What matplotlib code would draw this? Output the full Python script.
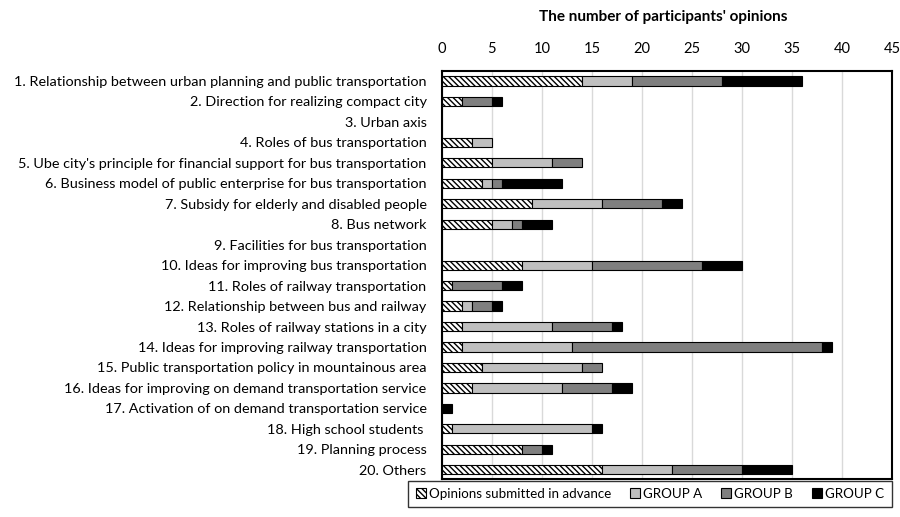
import matplotlib
matplotlib.use("Agg")
import matplotlib.pyplot as plt
import numpy as np

plt.rcParams["font.family"] = ["Lato", "DejaVu Sans"]
plt.rcParams["hatch.linewidth"] = 1.0

topics = [
    "1. Relationship between urban planning and public transportation",
    "2. Direction for realizing compact city",
    "3. Urban axis",
    "4. Roles of bus transportation",
    "5. Ube city's principle for financial support for bus transportation",
    "6. Business model of public enterprise for bus transportation",
    "7. Subsidy for elderly and disabled people",
    "8. Bus network",
    "9. Facilities for bus transportation",
    "10. Ideas for improving bus transportation",
    "11. Roles of railway transportation",
    "12. Relationship between bus and railway",
    "13. Roles of railway stations in a city",
    "14. Ideas for improving railway transportation",
    "15. Public transportation policy in mountainous area",
    "16. Ideas for improving on demand transportation service",
    "17. Activation of on demand transportation service",
    "18. High school students ",
    "19. Planning process",
    "20. Others",
]

advance = [14, 2, 0, 3, 5, 4, 9, 5, 0, 8, 1, 2, 2, 2, 4, 3, 0, 1, 8, 16]
group_a = [5, 0, 0, 2, 6, 1, 7, 2, 0, 7, 0, 1, 9, 11, 10, 9, 0, 14, 0, 7]
group_b = [9, 3, 0, 0, 3, 1, 6, 1, 0, 11, 5, 2, 6, 25, 2, 5, 0, 0, 2, 7]
group_c = [8, 1, 0, 0, 0, 6, 2, 3, 0, 4, 2, 1, 1, 1, 0, 2, 1, 1, 1, 5]

series = [
    ("Opinions submitted in advance", advance, "white", "\\" * 6),
    ("GROUP A", group_a, "#bfbfbf", None),
    ("GROUP B", group_b, "#7f7f7f", None),
    ("GROUP C", group_c, "#000000", None),
]

fig = plt.figure(figsize=(9, 5.17), dpi=100)
ax = fig.add_axes([0.491, 0.0735, 0.5, 0.789])

y = np.arange(len(topics))
left = np.zeros(len(topics))
for name, vals, color, hatch in series:
    vals = np.array(vals, dtype=float)
    keep = vals > 0  # skip empty segments so no stray edge lines are drawn
    ax.barh(y[keep], vals[keep], left=left[keep], height=0.45, color=color,
            edgecolor="black", linewidth=0.8, hatch=hatch, label=name, zorder=3)
    left += vals

ax.set_xlim(0, 45)
ax.set_ylim(19.45, -0.48)
ax.set_xticks(np.arange(0, 46, 5))
ax.xaxis.tick_top()
ax.tick_params(axis="x", length=0, labelsize=10.5, pad=11)
ax.tick_params(axis="y", length=0, labelsize=10.4, pad=11)
ax.set_yticks(y)
ax.set_yticklabels(topics)
ax.grid(axis="x", color="#d9d9d9", linewidth=1, zorder=0)
for s in ax.spines.values():
    s.set_linewidth(1.5)
    s.set_color("black")

fig.text(0.737, 1 - 17 / 517, "The number of participants' opinions", fontsize=11,
         fontweight="bold", ha="center", va="center")

fig.legend(loc="lower right", bbox_to_anchor=(0.998, 0.006), ncol=4, frameon=True,
           fancybox=False, edgecolor="black", fontsize=9.6, handlelength=0.75,
           handleheight=0.75, handletextpad=0.25, columnspacing=1.4,
           borderpad=0.55)

fig.savefig("out.png", dpi=100)
